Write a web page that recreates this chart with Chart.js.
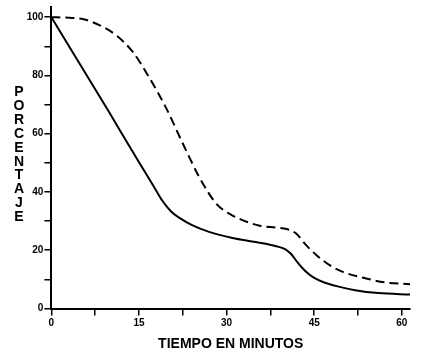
<!DOCTYPE html>
<html>
<head>
<meta charset="utf-8">
<script src="https://cdn.jsdelivr.net/npm/chart.js@4"></script>
<style>
  html, body { margin: 0; padding: 0; background: #fff; }
  #wrap { position: relative; width: 433px; height: 357px; }
  #ytitle { position: absolute; left: 11px; top: 85px; width: 16px; text-align: center;
    font: bold 14px "Liberation Sans", Arial, sans-serif; line-height: 13.9px; color: #000; }
</style>
</head>
<body>
<div id="wrap">
  <canvas id="c" width="433" height="357"></canvas>
  <div id="ytitle">P<br>O<br>R<br>C<br>E<br>N<br>T<br>A<br>J<br>E</div>
</div>
<script>
// Data
const solidX = [0, 5, 10, 15, 17.5, 19, 20.5, 22, 24, 27, 31, 35, 38.5, 40, 41, 42, 43, 44, 45, 46.5, 49, 52, 56, 61.5];
const solidY = [100, 83.5, 67, 50.2, 42, 37, 33.3, 31, 28.7, 26.3, 24.2, 22.8, 21.4, 20.4, 18.8, 16.2, 13.8, 11.9, 10.5, 9.1, 7.6, 6.3, 5.3, 4.8];
const dashX = [0, 3, 5.5, 8.3, 11.2, 14, 16.9, 19.7, 22.6, 25.4, 28.3, 30.6, 32.3, 35.7, 38.5, 40.3, 42, 43.5, 45.4, 47.7, 50, 53.9, 57, 61.5];
const dashY = [100, 99.8, 99.3, 97.2, 93.6, 87.9, 78.8, 68.6, 56.2, 44.8, 35.8, 32.4, 30.7, 28.4, 27.8, 27.3, 25.6, 22, 18.3, 14.8, 12.5, 10.3, 9, 8.3];
const xTickValues = [0, 7.5, 15, 22.5, 30, 37.5, 45, 52.5, 60];
const xTickLabels = [0, 15, 30, 45, 60];
const yTickValues = [0, 10, 20, 30, 40, 50, 60, 70, 80, 90, 100];
const yTickLabels = [0, 20, 40, 60, 80, 100];
const xTitle = 'TIEMPO EN MINUTOS';

const toPts = (xs, ys) => xs.map((x, i) => ({ x: x, y: ys[i] }));
const tickFont = { family: '"Liberation Sans", Arial, sans-serif', size: 10, weight: 'bold' };

new Chart(document.getElementById('c'), {
  type: 'line',
  data: {
    datasets: [
      { data: toPts(solidX, solidY), borderColor: '#000', borderWidth: 2, pointRadius: 0,
        cubicInterpolationMode: 'monotone', fill: false },
      { data: toPts(dashX, dashY), borderColor: '#000', borderWidth: 2, pointRadius: 0,
        borderDash: [9, 5], cubicInterpolationMode: 'monotone', fill: false }
    ]
  },
  options: {
    responsive: false,
    animation: false,
    devicePixelRatio: 1,
    layout: { padding: { top: 4, right: 23, left: 0, bottom: 0 } },
    plugins: { legend: { display: false }, tooltip: { enabled: false } },
    scales: {
      x: {
        type: 'linear', min: 0, max: 61.4,
        afterFit: s => { s.height = 48.5; },
        afterBuildTicks: s => { s.ticks = xTickValues.map(v => ({ value: v })); },
        border: { display: true, color: '#000', width: 2 },
        grid: { drawOnChartArea: false, drawTicks: true, tickLength: 7, color: '#000', lineWidth: 1.5 },
        ticks: { color: '#000', font: tickFont, padding: 2, maxRotation: 0, autoSkip: false,
          callback: v => xTickLabels.includes(v) ? String(v) : '' },
        title: { display: true, text: xTitle, color: '#000',
          font: { family: '"Liberation Sans", Arial, sans-serif', size: 14, weight: 'bold' },
          padding: { top: 0, bottom: 4 } }
      },
      y: {
        type: 'linear', min: 0, max: 103.5,
        afterFit: s => { s.width = 51.4; },
        afterBuildTicks: s => { s.ticks = yTickValues.map(v => ({ value: v })); },
        border: { display: true, color: '#000', width: 2 },
        grid: { drawOnChartArea: false, drawTicks: true, tickLength: 7, color: '#000', lineWidth: 1.5 },
        ticks: { color: '#000', font: tickFont, padding: 1, autoSkip: false,
          callback: v => yTickLabels.includes(v) ? String(v) : '' }
      }
    }
  }
});
</script>
</body>
</html>
